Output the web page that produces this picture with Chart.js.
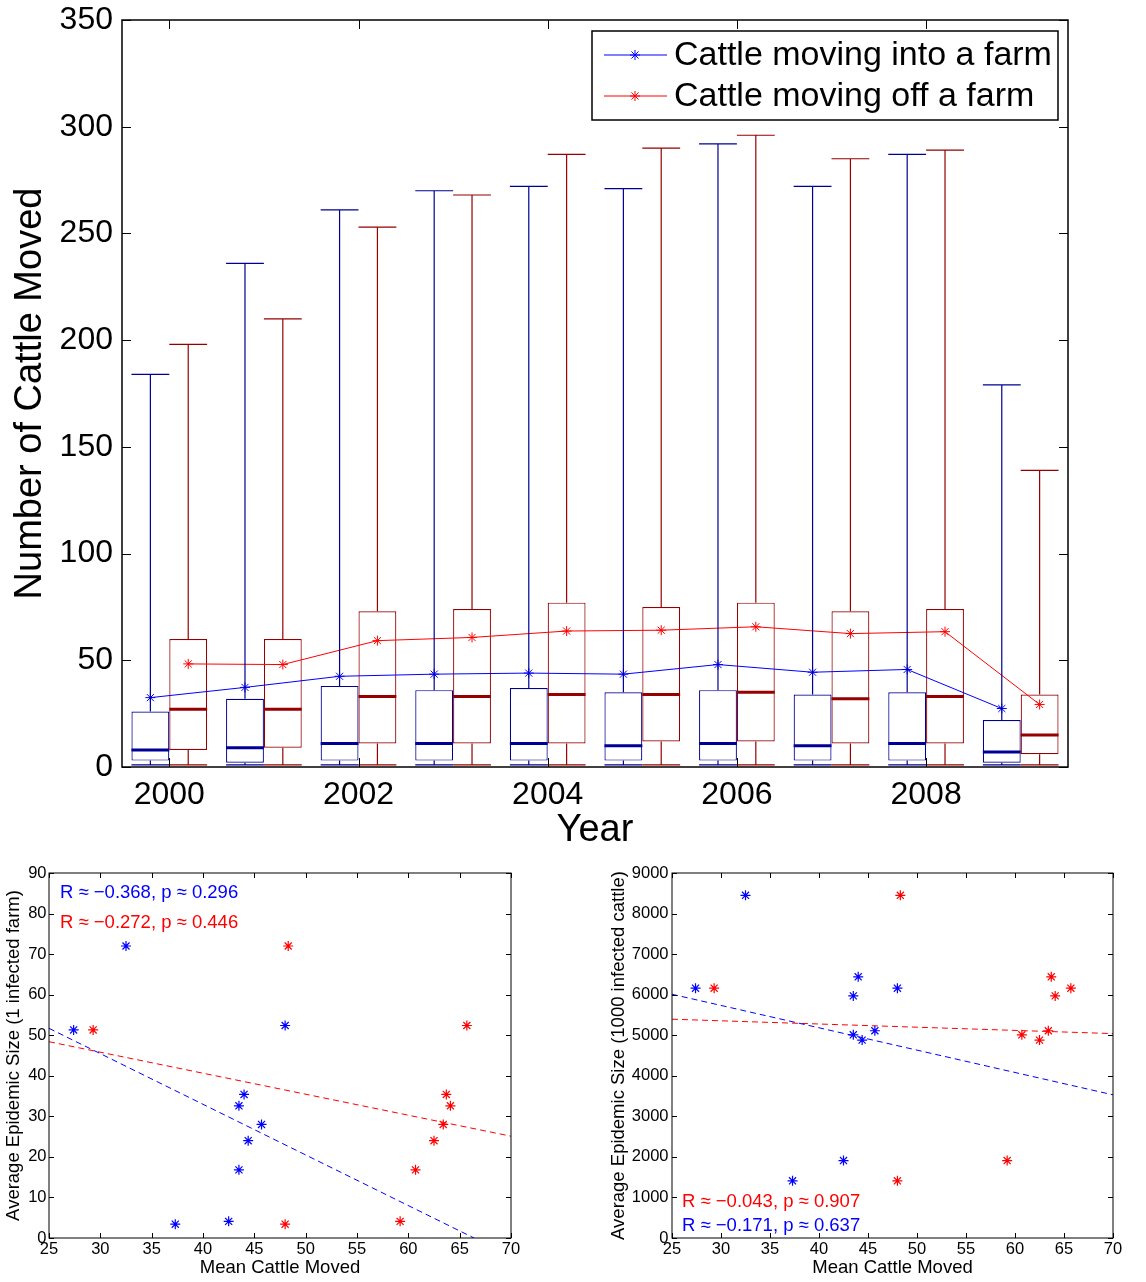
<!DOCTYPE html>
<html>
<head>
<meta charset="utf-8">
<title>Cattle movements and epidemic size</title>
<script src="https://cdn.jsdelivr.net/npm/chart.js@4.4.0/dist/chart.umd.min.js"></script>
<style>
  body { margin: 0; background: #fff; }
  #wrap { position: relative; width: 1146px; height: 1282px; }
  #wrap canvas { position: absolute; }
</style>
</head>
<body>
<div id="wrap">
  <canvas id="box-chart" width="1146" height="860" style="left:0;top:0;width:1146px;height:860px"></canvas>
  <canvas id="farm-chart" width="573" height="422" style="left:0;top:860px;width:573px;height:422px"></canvas>
  <canvas id="cattle-chart" width="573" height="422" style="left:573px;top:860px;width:573px;height:422px"></canvas>
</div>
<script>
// ---- data ----
const years = [2000, 2001, 2002, 2003, 2004, 2005, 2006, 2007, 2008, 2009];
const yearTicks = [2000, 2002, 2004, 2006, 2008];

// cattle moving into a farm, per movement
const intoMin    = [1, 1, 1, 1, 1, 1, 1, 1, 1, 1];
const intoQ1     = [3, 2, 3, 3, 3, 3, 3, 3, 3, 2];
const intoMedian = [8, 9, 11, 11, 11, 10, 11, 10, 11, 7];
const intoQ3     = [26, 32, 38, 36, 37, 35, 36, 34, 35, 22];
const intoMax    = [184, 236, 261, 270, 272, 271, 292, 272, 287, 179];
const intoMean   = [32.5, 37.3, 42.5, 43.5, 44.0, 43.5, 48.0, 44.4, 45.7, 27.4];

// cattle moving off a farm, per movement
const offMin    = [1, 1, 1, 1, 1, 1, 1, 1, 1, 1];
const offQ1     = [8, 9, 11, 11, 11, 12, 12, 11, 11, 6];
const offMedian = [27, 27, 33, 33, 34, 34, 35, 32, 33, 15];
const offQ3     = [60, 60, 73, 74, 77, 75, 77, 73, 74, 34];
const offMax    = [198, 210, 253, 268, 287, 290, 296, 285, 289, 139];
const offMean   = [48.3, 48.0, 59.2, 60.7, 63.7, 64.1, 65.7, 62.5, 63.4, 29.3];

// average epidemic size for each year's network
const epidemicFarm   = [72.0, 3.4, 4.1, 16.8, 35.4, 32.6, 52.4, 24.0, 28.0, 51.3];
const epidemicCattle = [8450, 1410, 1910, 5010, 6440, 5970, 6160, 4880, 5110, 6160];

// least squares lines (end points)
const fitFarmInto    = [[25, 51.7], [66.4, 0]];
const fitFarmOff     = [[25, 48.4], [70, 25.1]];
const fitCattleInto  = [[25, 6010], [70, 3530]];
const fitCattleOff   = [[25, 5395], [70, 5040]];

const statsFarm   = ['R \u2248 \u22120.368, p \u2248 0.296', 'R \u2248 \u22120.272, p \u2248 0.446'];
const statsCattle = ['R \u2248 \u22120.043, p \u2248 0.907', 'R \u2248 \u22120.171, p \u2248 0.637'];

// ---- styling ----
const FONT = "'Liberation Sans', Arial, Helvetica, sans-serif";
const BLUE = '#0000ff';
const RED = '#ff0000';
const BLUE_BOX = '#000096';
const RED_BOX = '#960000';
const GROUP_PCT = 0.8;              // two boxes fill 80% of a year
const BOX_SHIFT = GROUP_PCT / 4;    // centre of each box from the year

Chart.defaults.font.family = FONT;
Chart.defaults.color = '#000';

// no extra room for overhanging tick labels; the layout padding handles it
function noOverhang(scale) {
  scale.paddingTop = 0;
  scale.paddingBottom = 0;
  scale.paddingLeft = 0;
  scale.paddingRight = 0;
}

// black box round the plot area with inward ticks on all four sides
const frameTicks = {
  id: 'frameTicks',
  afterDraw(chart, args, opts) {
    const { ctx, chartArea: a, scales } = chart;
    const len = opts.length;
    ctx.save();
    ctx.strokeStyle = '#000';
    ctx.lineWidth = opts.lineWidth;
    ctx.strokeRect(a.left, a.top, a.right - a.left, a.bottom - a.top);
    ctx.lineWidth = 1;
    ctx.beginPath();
    scales.x.ticks.forEach(t => {
      const px = Math.round(scales.x.getPixelForValue(t.value)) + 0.5;
      ctx.moveTo(px, a.bottom); ctx.lineTo(px, a.bottom - len);
      ctx.moveTo(px, a.top); ctx.lineTo(px, a.top + len);
    });
    scales.y.ticks.forEach(t => {
      const py = Math.round(scales.y.getPixelForValue(t.value)) + 0.5;
      ctx.moveTo(a.left, py); ctx.lineTo(a.left + len, py);
      ctx.moveTo(a.right, py); ctx.lineTo(a.right - len, py);
    });
    ctx.stroke();
    ctx.restore();
  }
};

// whiskers, caps and medians on top of the floating bars
const boxWhiskers = {
  id: 'boxWhiskers',
  afterDatasetsDraw(chart, args, opts) {
    const { ctx, scales: { y } } = chart;
    ctx.save();
    opts.series.forEach(s => {
      const meta = chart.getDatasetMeta(s.dataset);
      meta.data.forEach((bar, i) => {
        const { x, width } = bar.getProps(['x', 'width'], true);
        const h = width / 2;
        const yMax = y.getPixelForValue(s.max[i]);
        const yQ3 = y.getPixelForValue(s.q3[i]);
        const yQ1 = y.getPixelForValue(s.q1[i]);
        const yMin = y.getPixelForValue(s.min[i]);
        const yMed = y.getPixelForValue(s.median[i]);
        ctx.strokeStyle = s.color;
        ctx.lineWidth = 1.2;
        ctx.beginPath();
        ctx.moveTo(x, yQ3); ctx.lineTo(x, yMax);
        ctx.moveTo(x - h, yMax); ctx.lineTo(x + h, yMax);
        ctx.moveTo(x, yQ1); ctx.lineTo(x, yMin);
        ctx.moveTo(x - h, yMin); ctx.lineTo(x + h, yMin);
        ctx.stroke();
        ctx.lineWidth = 3;
        ctx.beginPath();
        ctx.moveTo(x - h, yMed); ctx.lineTo(x + h, yMed);
        ctx.stroke();
      });
    });
    ctx.restore();
  }
};

// legend drawn inside the plot: line sample with a star in the middle
const lineLegend = {
  id: 'lineLegend',
  afterDraw(chart, args, opts) {
    const { ctx, chartArea: a } = chart;
    const w = 466, h = 89;
    const x0 = a.right - 10 - w;
    const y0 = a.top + 11;
    ctx.save();
    ctx.fillStyle = '#fff';
    ctx.fillRect(x0, y0, w, h);
    ctx.strokeStyle = '#000';
    ctx.lineWidth = 1.5;
    ctx.strokeRect(x0, y0, w, h);
    opts.items.forEach((item, k) => {
      const cy = y0 + 24 + k * 41;
      ctx.strokeStyle = item.color;
      ctx.lineWidth = 1;
      ctx.beginPath();
      ctx.moveTo(x0 + 12, cy); ctx.lineTo(x0 + 75, cy);
      ctx.stroke();
      Chart.helpers.drawPoint(ctx, { pointStyle: 'star', radius: 5, rotation: 0, borderWidth: 1 }, x0 + 43, cy);
      ctx.fillStyle = '#000';
      ctx.font = '34px ' + FONT;
      ctx.textBaseline = 'middle';
      ctx.textAlign = 'left';
      ctx.fillText(item.text, x0 + 82, cy + 1);
    });
    ctx.restore();
  }
};

// correlation notes in a corner of a scatter plot
const statsNote = {
  id: 'statsNote',
  afterDraw(chart, args, opts) {
    const { ctx, chartArea: a } = chart;
    ctx.save();
    ctx.font = '18.5px ' + FONT;
    ctx.textBaseline = 'middle';
    ctx.textAlign = 'left';
    opts.lines.forEach(l => {
      ctx.fillStyle = l.color;
      const y = opts.fromBottom ? a.bottom - l.dy : a.top + l.dy;
      ctx.fillText(l.text, a.left + opts.dx, y);
    });
    ctx.restore();
  }
};

// ---- top: box plots of movement sizes per year ----
const boxData = {
  datasets: [
    {
      type: 'line',
      label: 'Cattle moving into a farm',
      data: years.map((yr, i) => ({ x: yr - BOX_SHIFT, y: intoMean[i] })),
      borderColor: BLUE,
      borderWidth: 1,
      pointStyle: 'star',
      pointRadius: 5,
      pointBorderColor: BLUE,
      pointBorderWidth: 1,
      tension: 0,
      order: 1,
    },
    {
      type: 'line',
      label: 'Cattle moving off a farm',
      data: years.map((yr, i) => ({ x: yr + BOX_SHIFT, y: offMean[i] })),
      borderColor: RED,
      borderWidth: 1,
      pointStyle: 'star',
      pointRadius: 5,
      pointBorderColor: RED,
      pointBorderWidth: 1,
      tension: 0,
      order: 1,
    },
    {
      type: 'bar',
      label: 'into box',
      data: years.map((yr, i) => ({ x: yr, y: [intoQ1[i], intoQ3[i]] })),
      backgroundColor: '#fff',
      borderColor: BLUE_BOX,
      borderWidth: 1.2,
      borderSkipped: false,
      categoryPercentage: GROUP_PCT,
      barPercentage: 1,
      order: 2,
    },
    {
      type: 'bar',
      label: 'off box',
      data: years.map((yr, i) => ({ x: yr, y: [offQ1[i], offQ3[i]] })),
      backgroundColor: '#fff',
      borderColor: RED_BOX,
      borderWidth: 1.2,
      borderSkipped: false,
      categoryPercentage: GROUP_PCT,
      barPercentage: 1,
      order: 2,
    },
  ],
};

new Chart(document.getElementById('box-chart'), {
  type: 'bar',
  data: boxData,
  plugins: [boxWhiskers, frameTicks, lineLegend],
  options: {
    responsive: false,
    animation: false,
    devicePixelRatio: 1,
    events: [],
    layout: { padding: { top: 20, right: 78, left: 0, bottom: 0 } },
    scales: {
      x: {
        type: 'linear',
        min: 1999.5,
        max: 2009.5,
        offset: false,
        grid: { display: false, drawTicks: false },
        border: { display: false },
        afterBuildTicks: axis => { axis.ticks = yearTicks.map(v => ({ value: v })); },
        afterFit: scale => { scale.height = 93; noOverhang(scale); },
        ticks: { font: { size: 32 }, padding: 9, maxRotation: 0, callback: v => String(v) },
        title: { display: true, text: 'Year', font: { size: 38 }, padding: { top: 0, bottom: 7 } },
      },
      y: {
        min: 0,
        max: 350,
        grid: { display: false, drawTicks: false },
        border: { display: false },
        afterFit: scale => { scale.width = 122; noOverhang(scale); },
        ticks: { stepSize: 50, font: { size: 32 }, padding: 9, callback: v => String(v) },
        title: { display: true, text: 'Number of Cattle Moved', font: { size: 38 }, padding: { top: 8, bottom: 0 } },
      },
    },
    plugins: {
      legend: { display: false },
      tooltip: { enabled: false },
      frameTicks: { length: 9, lineWidth: 1.5 },
      boxWhiskers: {
        series: [
          { dataset: 2, min: intoMin, q1: intoQ1, median: intoMedian, q3: intoQ3, max: intoMax, color: BLUE_BOX },
          { dataset: 3, min: offMin, q1: offQ1, median: offMedian, q3: offQ3, max: offMax, color: RED_BOX },
        ],
      },
      lineLegend: {
        items: [
          { text: 'Cattle moving into a farm', color: BLUE },
          { text: 'Cattle moving off a farm', color: RED },
        ],
      },
    },
  },
});

// ---- bottom: epidemic size against mean movement size ----
function scatterSets(sizes, fitInto, fitOff) {
  const star = color => ({
    pointStyle: 'star',
    pointRadius: 5,
    pointBorderColor: color,
    pointBorderWidth: 1.2,
    borderColor: color,
  });
  return [
    { label: 'into', data: intoMean.map((m, i) => ({ x: m, y: sizes[i] })), ...star(BLUE) },
    { label: 'off', data: offMean.map((m, i) => ({ x: m, y: sizes[i] })), ...star(RED) },
    {
      label: 'into fit',
      data: fitInto.map(([x, y]) => ({ x, y })),
      showLine: true, pointRadius: 0, borderColor: BLUE, borderWidth: 1, borderDash: [6, 4],
    },
    {
      label: 'off fit',
      data: fitOff.map(([x, y]) => ({ x, y })),
      showLine: true, pointRadius: 0, borderColor: RED, borderWidth: 1, borderDash: [6, 4],
    },
  ];
}

function scatterOptions(cfg) {
  return {
    responsive: false,
    animation: false,
    devicePixelRatio: 1,
    events: [],
    layout: { padding: { top: 13, right: cfg.padRight, left: 0, bottom: 0 } },
    scales: {
      x: {
        type: 'linear',
        min: 25,
        max: 70,
        grid: { display: false, drawTicks: false },
        border: { display: false },
        afterFit: scale => { scale.height = 44; noOverhang(scale); },
        ticks: { stepSize: 5, font: { size: 16.5 }, padding: 2, maxRotation: 0, callback: v => String(v) },
        title: { display: true, text: 'Mean Cattle Moved', font: { size: 18.5 }, padding: { top: 0, bottom: 3 } },
      },
      y: {
        min: 0,
        max: cfg.yMax,
        grid: { display: false, drawTicks: false },
        border: { display: false },
        afterFit: scale => { scale.width = cfg.yWidth; noOverhang(scale); },
        ticks: { stepSize: cfg.yStep, font: { size: 16.5 }, padding: cfg.yPad, callback: v => String(v) },
        title: { display: true, text: cfg.yTitle, font: { size: 18.5 }, padding: { top: cfg.titlePad, bottom: 0 } },
      },
    },
    plugins: {
      legend: { display: false },
      tooltip: { enabled: false },
      frameTicks: { length: 5, lineWidth: 1 },
      statsNote: cfg.notes,
    },
  };
}

new Chart(document.getElementById('farm-chart'), {
  type: 'scatter',
  data: { datasets: scatterSets(epidemicFarm, fitFarmInto, fitFarmOff) },
  plugins: [frameTicks, statsNote],
  options: scatterOptions({
    yMax: 90, yStep: 10, yWidth: 49, yPad: 2.5, padRight: 62, titlePad: 3,
    yTitle: 'Average Epidemic Size (1 infected farm)',
    notes: {
      dx: 11, fromBottom: false,
      lines: [
        { text: statsFarm[0], color: BLUE, dy: 20 },
        { text: statsFarm[1], color: RED, dy: 50 },
      ],
    },
  }),
});

new Chart(document.getElementById('cattle-chart'), {
  type: 'scatter',
  data: { datasets: scatterSets(epidemicCattle, fitCattleInto, fitCattleOff) },
  plugins: [frameTicks, statsNote],
  options: scatterOptions({
    yMax: 9000, yStep: 1000, yWidth: 99, yPad: 3.5, padRight: 33, titlePad: 34.5,
    yTitle: 'Average Epidemic Size (1000 infected cattle)',
    notes: {
      dx: 10, fromBottom: true,
      lines: [
        { text: statsCattle[0], color: RED, dy: 36 },
        { text: statsCattle[1], color: BLUE, dy: 12 },
      ],
    },
  }),
});
</script>
</body>
</html>
